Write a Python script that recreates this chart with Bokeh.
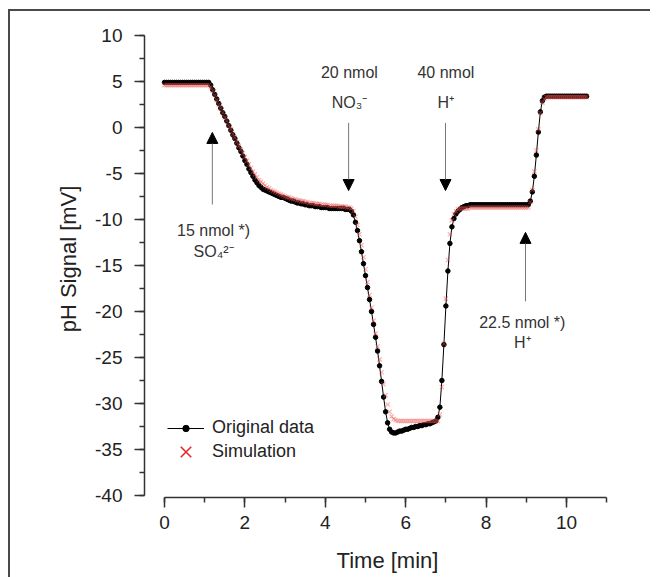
from bokeh.plotting import figure
from bokeh.layouts import column
from bokeh.models import (Range1d, SingleIntervalTicker, Legend, LegendItem, Arrow,
                          NormalHead, ColumnDataSource, PrintfTickFormatter)
from bokeh.core.properties import value
from bokeh.embed import file_html
from bokeh.resources import INLINE

# ---------------- data ----------------
time_min = [
    0.00, 0.05, 0.10, 0.15, 0.20, 0.25, 0.30, 0.35, 0.40, 0.45,
    0.50, 0.55, 0.60, 0.65, 0.70, 0.75, 0.80, 0.85, 0.90, 0.95,
    1.00, 1.05, 1.10, 1.15, 1.20, 1.25, 1.30, 1.35, 1.40, 1.45,
    1.50, 1.55, 1.60, 1.65, 1.70, 1.75, 1.80, 1.85, 1.90, 1.95,
    2.00, 2.05, 2.10, 2.15, 2.20, 2.25, 2.30, 2.35, 2.40, 2.45,
    2.50, 2.55, 2.60, 2.65, 2.70, 2.75, 2.80, 2.85, 2.90, 2.95,
    3.00, 3.05, 3.10, 3.15, 3.20, 3.25, 3.30, 3.35, 3.40, 3.45,
    3.50, 3.55, 3.60, 3.65, 3.70, 3.75, 3.80, 3.85, 3.90, 3.95,
    4.00, 4.05, 4.10, 4.15, 4.20, 4.25, 4.30, 4.35, 4.40, 4.45,
    4.50, 4.55, 4.60, 4.65, 4.70, 4.75, 4.80, 4.85, 4.90, 4.95,
    5.00, 5.05, 5.10, 5.15, 5.20, 5.25, 5.30, 5.35, 5.40, 5.45,
    5.50, 5.55, 5.60, 5.65, 5.70, 5.75, 5.80, 5.85, 5.90, 5.95,
    6.00, 6.05, 6.10, 6.15, 6.20, 6.25, 6.30, 6.35, 6.40, 6.45,
    6.50, 6.55, 6.60, 6.65, 6.70, 6.75, 6.80, 6.85, 6.90, 6.95,
    7.00, 7.05, 7.10, 7.15, 7.20, 7.25, 7.30, 7.35, 7.40, 7.45,
    7.50, 7.55, 7.60, 7.65, 7.70, 7.75, 7.80, 7.85, 7.90, 7.95,
    8.00, 8.05, 8.10, 8.15, 8.20, 8.25, 8.30, 8.35, 8.40, 8.45,
    8.50, 8.55, 8.60, 8.65, 8.70, 8.75, 8.80, 8.85, 8.90, 8.95,
    9.00, 9.05, 9.10, 9.15, 9.20, 9.25, 9.30, 9.35, 9.40, 9.45,
    9.50, 9.55, 9.60, 9.65, 9.70, 9.75, 9.80, 9.85, 9.90, 9.95,
    10.00, 10.05, 10.10, 10.15, 10.20, 10.25, 10.30, 10.35, 10.40, 10.45,
    10.50,
]

original_mv = [
    4.9, 4.9, 4.9, 4.9, 4.9, 4.9, 4.9, 4.9, 4.9, 4.9,
    4.9, 4.9, 4.9, 4.9, 4.9, 4.9, 4.9, 4.9, 4.9, 4.9,
    4.9, 4.9, 4.9, 4.6, 4.1, 3.6, 3.1, 2.6, 2.1, 1.6,
    1.2, 0.7, 0.2, -0.3, -0.8, -1.2, -1.7, -2.2, -2.6, -3.1,
    -3.6, -4.0, -4.5, -4.9, -5.3, -5.7, -6.0, -6.3, -6.5, -6.7,
    -6.8, -6.9, -7.0, -7.1, -7.2, -7.3, -7.4, -7.5, -7.6, -7.6,
    -7.7, -7.8, -7.9, -8.0, -8.0, -8.1, -8.2, -8.2, -8.3, -8.3,
    -8.4, -8.4, -8.5, -8.5, -8.5, -8.6, -8.6, -8.6, -8.7, -8.7,
    -8.7, -8.7, -8.8, -8.8, -8.8, -8.8, -8.8, -8.8, -8.8, -8.8,
    -8.9, -8.9, -8.9, -9.1, -9.5, -10.3, -11.2, -12.3, -13.5, -14.8,
    -16.1, -17.4, -18.7, -20.0, -21.4, -22.8, -24.3, -25.9, -27.6, -29.3,
    -30.9, -32.1, -32.8, -33.1, -33.2, -33.2, -33.1, -33.0, -33.0, -32.9,
    -32.8, -32.8, -32.7, -32.6, -32.6, -32.5, -32.5, -32.4, -32.4, -32.3,
    -32.3, -32.2, -32.2, -32.1, -32.0, -31.9, -31.5, -30.4, -27.5, -23.6,
    -19.4, -15.6, -12.6, -10.8, -9.9, -9.4, -9.1, -8.9, -8.7, -8.6,
    -8.5, -8.5, -8.4, -8.4, -8.4, -8.4, -8.4, -8.4, -8.4, -8.4,
    -8.4, -8.4, -8.4, -8.4, -8.4, -8.4, -8.4, -8.4, -8.4, -8.4,
    -8.4, -8.4, -8.4, -8.4, -8.4, -8.4, -8.4, -8.4, -8.4, -8.4,
    -8.4, -8.4, -8.0, -7.0, -5.3, -3.0, -0.5, 1.7, 2.9, 3.3,
    3.4, 3.4, 3.4, 3.4, 3.4, 3.4, 3.4, 3.4, 3.4, 3.4,
    3.4, 3.4, 3.4, 3.4, 3.4, 3.4, 3.4, 3.4, 3.4, 3.4,
    3.4,
]

simulation_mv = [
    4.6, 4.6, 4.6, 4.6, 4.6, 4.6, 4.6, 4.6, 4.6, 4.6,
    4.6, 4.6, 4.6, 4.6, 4.6, 4.6, 4.6, 4.6, 4.6, 4.6,
    4.6, 4.6, 4.6, 4.4, 4.0, 3.5, 3.0, 2.5, 2.1, 1.6,
    1.1, 0.7, 0.2, -0.2, -0.7, -1.1, -1.6, -2.0, -2.4, -2.8,
    -3.2, -3.6, -4.0, -4.4, -4.8, -5.1, -5.4, -5.7, -5.9, -6.1,
    -6.3, -6.5, -6.6, -6.8, -6.9, -7.0, -7.1, -7.2, -7.3, -7.4,
    -7.5, -7.6, -7.6, -7.7, -7.8, -7.8, -7.9, -7.9, -8.0, -8.0,
    -8.1, -8.1, -8.2, -8.2, -8.2, -8.3, -8.3, -8.3, -8.4, -8.4,
    -8.4, -8.4, -8.5, -8.5, -8.5, -8.5, -8.5, -8.6, -8.6, -8.6,
    -8.6, -8.7, -8.7, -8.8, -9.1, -9.7, -10.6, -11.6, -12.8, -14.1,
    -15.4, -16.8, -18.2, -19.6, -21.0, -22.4, -23.8, -25.2, -26.6, -27.9,
    -29.1, -30.1, -30.9, -31.4, -31.7, -31.8, -31.9, -31.9, -31.9, -31.9,
    -31.9, -31.9, -31.9, -31.9, -31.9, -31.9, -31.9, -31.9, -31.9, -31.9,
    -31.9, -31.9, -31.9, -31.9, -31.9, -31.9, -31.9, -31.2, -28.2, -23.5,
    -18.6, -14.4, -11.6, -10.1, -9.4, -9.1, -8.9, -8.8, -8.8, -8.8,
    -8.8, -8.8, -8.7, -8.7, -8.7, -8.7, -8.7, -8.7, -8.7, -8.7,
    -8.7, -8.7, -8.7, -8.7, -8.7, -8.7, -8.7, -8.7, -8.7, -8.7,
    -8.7, -8.7, -8.7, -8.7, -8.7, -8.7, -8.7, -8.7, -8.7, -8.7,
    -8.7, -8.7, -8.1, -6.8, -4.8, -2.5, -0.2, 1.6, 2.7, 3.1,
    3.3, 3.3, 3.3, 3.3, 3.3, 3.3, 3.3, 3.3, 3.3, 3.3,
    3.3, 3.3, 3.3, 3.3, 3.3, 3.3, 3.3, 3.3, 3.3, 3.3,
    3.3,
]

annotation_x = [1.22, 1.22, 4.60, 4.60, 7.00, 7.00, 8.90, 8.90]
annotation_y = [-11.2, -13.5, 6.0, 2.7, 6.0, 2.7, -21.2, -23.4]
annotation_text = ["15 nmol *)", "SO\u2084\u00b2\u207b", "20 nmol", "NO\u2083\u207b",
                   "40 nmol", "H\u207a", "22.5 nmol *)", "H\u207a"]

arrow_x = [1.19, 4.58, 6.99, 8.98]
arrow_from = [-8.37, 0.5, 0.5, -18.9]
arrow_to = [-0.54, -6.85, -6.85, -11.4]

FONT = "Liberation Sans"
INK = "#222222"

p = figure(width=640, height=566, output_backend="svg", toolbar_location=None,
           x_range=Range1d(-0.4975, 11.592), y_range=Range1d(-40.217, 11.63),
           min_border_left=134, min_border_right=20, min_border_top=9,
           min_border_bottom=80)
p.background_fill_color = "white"
p.border_fill_color = "white"
p.outline_line_color = None
p.xgrid.visible = False
p.ygrid.visible = False

# axes
xa = p.xaxis[0]
xa.ticker = SingleIntervalTicker(interval=2, num_minor_ticks=2)
xa.bounds = (0, 11)
xa.axis_label = "Time [min]"
ya = p.yaxis[0]
ya.ticker = SingleIntervalTicker(interval=5, num_minor_ticks=2)
ya.bounds = (-40, 10)
ya.axis_label = "pH Signal [mV]"
for ax in (xa, ya):
    ax.formatter = PrintfTickFormatter(format="%d")
    ax.axis_line_color = "#333333"
    ax.axis_line_width = 1.5
    ax.major_tick_line_color = "#333333"
    ax.major_tick_line_width = 1.5
    ax.minor_tick_line_color = "#333333"
    ax.minor_tick_line_width = 1.5
    ax.major_tick_in = 0
    ax.major_tick_out = 10
    ax.minor_tick_in = 0
    ax.minor_tick_out = 5
    ax.major_label_text_font = FONT
    ax.major_label_text_font_size = "19px"
    ax.major_label_text_color = INK
    ax.axis_label_text_font = FONT
    ax.axis_label_text_font_size = "22px"
    ax.axis_label_text_font_style = "normal"
    ax.axis_label_text_color = INK
xa.major_label_standoff = 8
xa.axis_label_standoff = 16
ya.major_label_standoff = 12
ya.axis_label_standoff = 11

# data
data_src = ColumnDataSource(dict(t=time_min, v=original_mv))
sim_src = ColumnDataSource(dict(t=time_min, v=simulation_mv))

orig_line = p.line("t", "v", source=data_src, line_color="black", line_width=1)
orig_pts = p.scatter("t", "v", source=data_src, marker="circle", size=4.5,
                     fill_color="black", line_color="black")
sim_pts = p.scatter("t", "v", source=sim_src, marker="x", size=6,
                    line_color="#f05050", line_alpha=0.45, line_width=1.2)
# key glyph for the legend: same data, zero size in the plot (legend sizes its own key)
sim_key = p.scatter("t", "v", source=sim_src, marker="x", size=0,
                    line_color="#e8262a", line_width=1.6)

# annotations
ann_src = ColumnDataSource(dict(x=annotation_x, y=annotation_y, text=annotation_text))
p.text("x", "y", "text", source=ann_src, text_font=value(FONT), text_font_size="16px",
       text_color="#333333", text_align="center", text_baseline="middle")

arr_src = ColumnDataSource(dict(x=arrow_x, y0=arrow_from, y1=arrow_to))
p.add_layout(Arrow(x_start="x", y_start="y0", x_end="x", y_end="y1", source=arr_src,
                   line_color="#777777", line_width=1,
                   end=NormalHead(size=11, fill_color="black", line_color="black",
                                  line_width=1)))

common = dict(orientation="vertical", label_text_font=FONT, label_text_font_size="18px",
              label_text_color=INK, glyph_width=37, padding=0, margin=0,
              label_standoff=8, border_line_color=None, background_fill_alpha=0)
leg1 = Legend(items=[LegendItem(label="Original data", renderers=[orig_line, orig_pts])],
              location=(23, 59), glyph_height=16, label_height=16, **common)
leg2 = Legend(items=[LegendItem(label="Simulation", renderers=[sim_key])],
              location=(23, 27), glyph_height=37, label_height=37, **common)
p.add_layout(leg1)
p.add_layout(leg2)

page = column(p, styles={"margin-left": "8px", "margin-top": "9px",
                         "border-top": "2px solid #4a4a4a",
                         "border-left": "2px solid #4a4a4a"})

open("out.html", "w").write(file_html(page, INLINE))
